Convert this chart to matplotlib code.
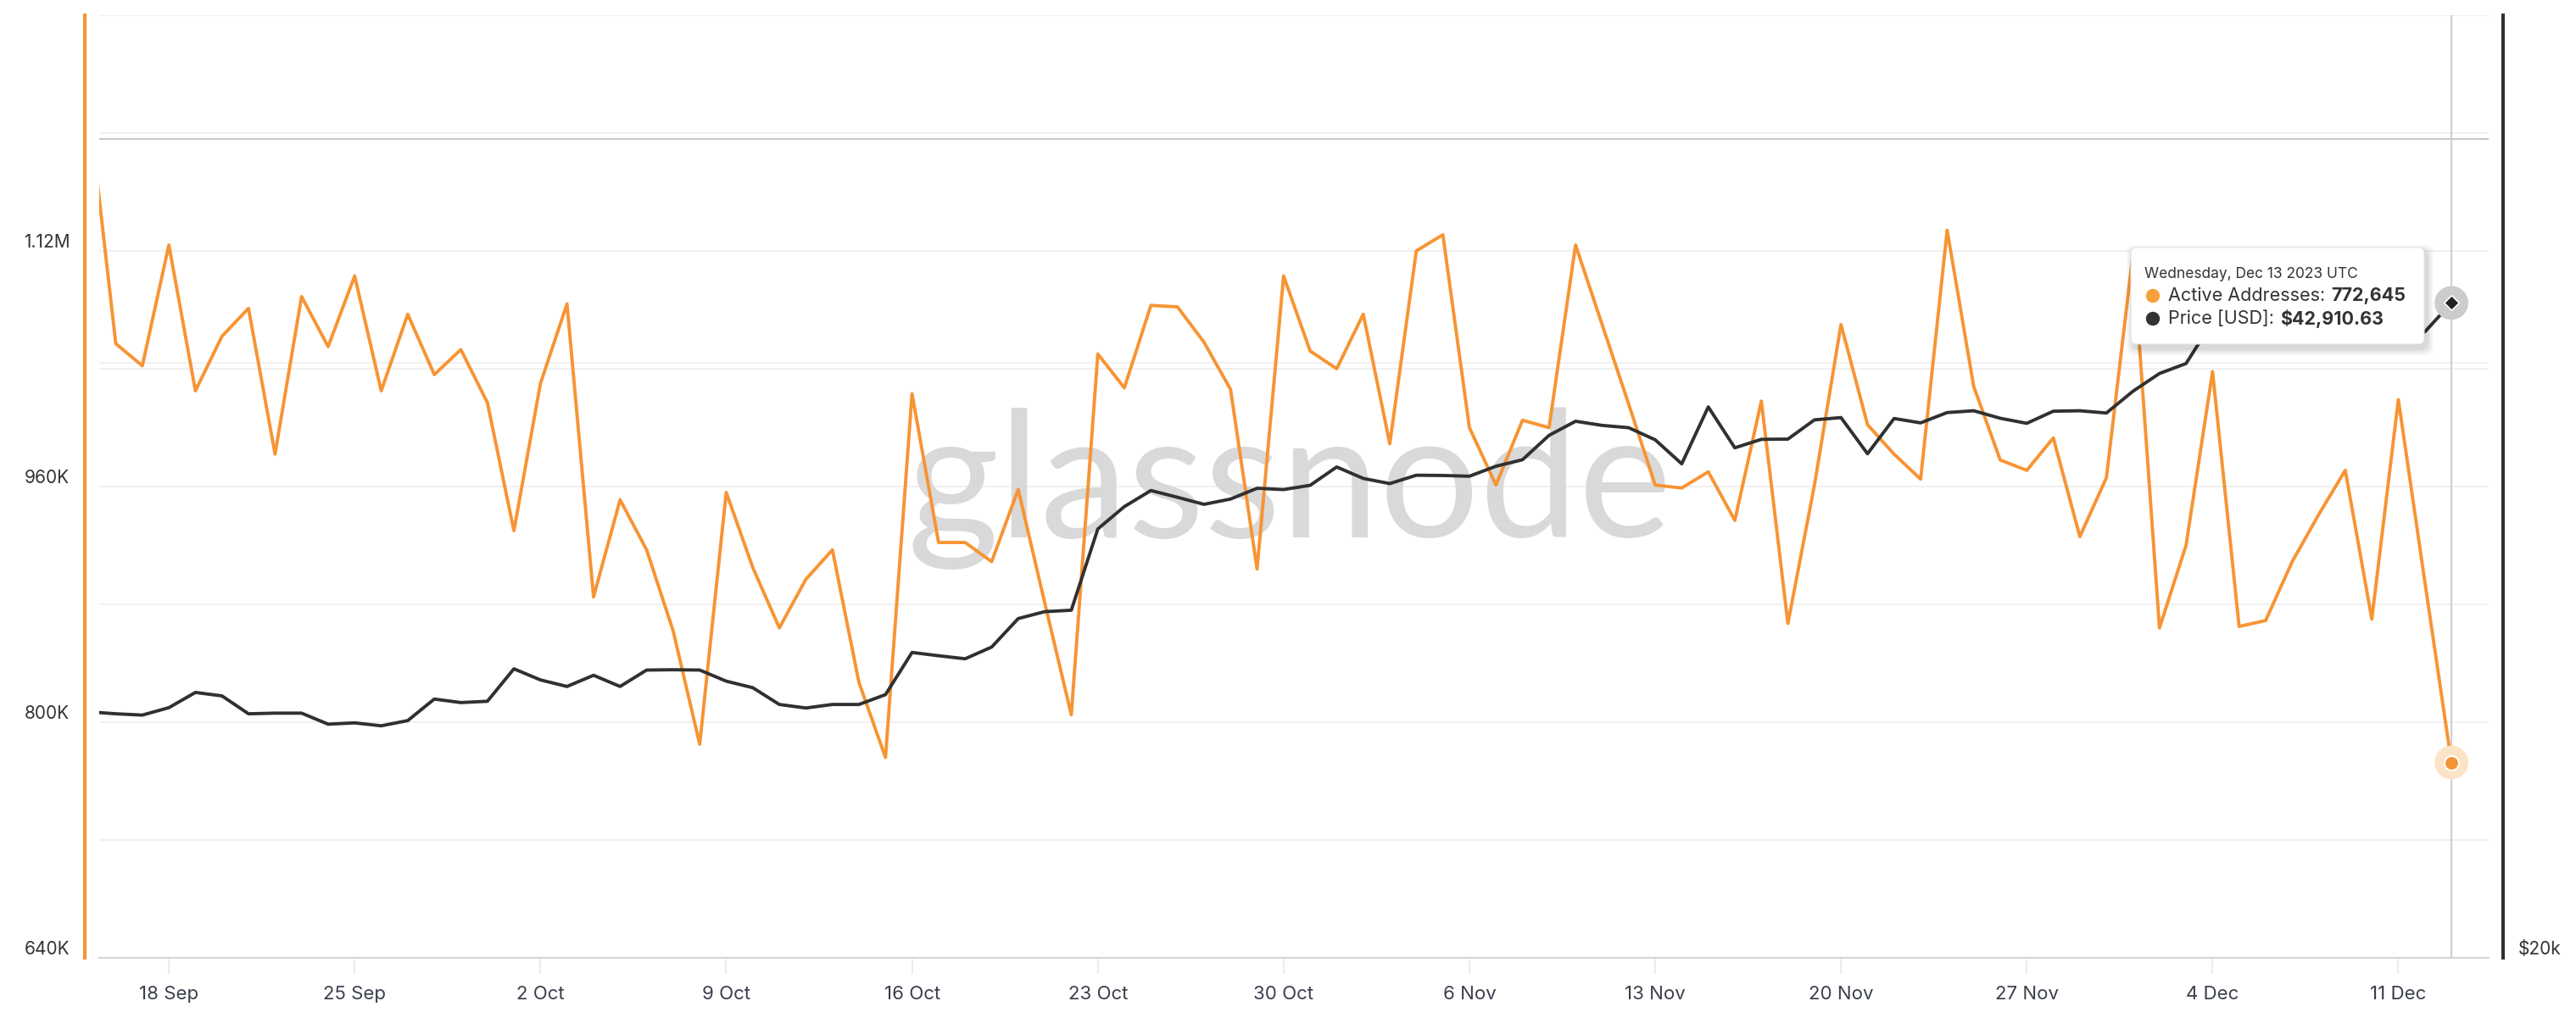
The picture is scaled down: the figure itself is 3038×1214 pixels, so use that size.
import matplotlib
matplotlib.use('Agg')
import matplotlib.pyplot as plt
import matplotlib.transforms as mtransforms
from matplotlib.patches import FancyBboxPatch, Circle
from matplotlib.ticker import NullLocator
import pandas as pd

plt.rcParams['font.family'] = ['Inter', 'DejaVu Sans']

# daily data, 15 Sep - 13 Dec 2023
dates = pd.date_range('2023-09-15', '2023-12-13', freq='D')

active_addresses = [
    1215000, 1057000, 1042000, 1124000, 1025000, 1062000, 1081000, 982000,
    1089000, 1055000, 1103000, 1025000, 1077000, 1036000, 1053000, 1017000,
    930000, 1030000, 1084000, 885000, 951000, 917000, 862000, 785000,
    956000, 905000, 864000, 897000, 917000, 827000, 776000, 1023000,
    922000, 922000, 909000, 958000, 881000, 805000, 1050000, 1027000,
    1083000, 1082000, 1058000, 1026000, 904000, 1103000, 1052000, 1040000,
    1077000, 989000, 1120000, 1131000, 1000000, 961000, 1005000, 1000000,
    1124000, 1070000, 1016000, 961000, 959000, 970000, 937000, 1018000,
    867000, 961000, 1070000, 1002000, 982000, 965000, 1134000, 1028000,
    978000, 971000, 993000, 926000, 966000, 1118000, 864000, 920000,
    1038000, 865000, 869000, 909000, 941000, 971000, 870000, 1019000,
    895000, 772645,
]

price_usd = [
    26640, 26580, 26540, 26770, 27250, 27140, 26580, 26600,
    26600, 26260, 26300, 26210, 26370, 27040, 26930, 26970,
    28010, 27650, 27440, 27800, 27440, 27970, 27980, 27970,
    27610, 27400, 26870, 26760, 26870, 26870, 27180, 28550,
    28440, 28340, 28730, 29700, 29940, 29990, 32970, 33840,
    34480, 34210, 33930, 34140, 34570, 34520, 34690, 35440,
    34970, 34760, 35100, 35090, 35060, 35470, 35740, 36770,
    37380, 37200, 37100, 36580, 35570, 38010, 36240, 36600,
    36610, 37440, 37540, 35990, 37500, 37310, 37760, 37840,
    37510, 37290, 37820, 37840, 37740, 38710, 39520, 39980,
    41980, 44080, 43770, 43290, 44170, 43710, 43780, 41240,
    41490, 42910.63,
]

week_ticks = pd.date_range('2023-09-18', '2023-12-11', freq='7D')
week_labels = ['18 Sep', '25 Sep', '2 Oct', '9 Oct', '16 Oct', '23 Oct', '30 Oct',
               '6 Nov', '13 Nov', '20 Nov', '27 Nov', '4 Dec', '11 Dec']

aa_ticks = [640000, 720000, 800000, 880000, 960000, 1040000, 1120000, 1200000, 1280000]
aa_labels = ['640K', '', '800K', '', '960K', '', '1.12M', '', '']
price_ticks = [20000, 40000]
price_labels = ['$20k', '']

ORANGE = '#f79433'
DARK = '#303030'
GRID = '#ececec'

fig = plt.figure(figsize=(30.38, 12.14), dpi=100)
ax = fig.add_axes([0.03851, 0.06919, 0.92759, 0.91598])
ax2 = ax.twinx()

ax.plot(dates, active_addresses, color=ORANGE, lw=2.8, zorder=3)
ax2.plot(dates, price_usd, color=DARK, lw=2.8, zorder=3)

ax.set_xlim(pd.Timestamp('2023-09-15 09:00'), pd.Timestamp('2023-12-14 09:40'))
ax.set_ylim(640000, 1280000)
ax2.set_yscale('log')
ax2.set_ylim(20000, 60000)

# grid
ax.set_yticks(aa_ticks)
ax.set_yticklabels(aa_labels)
ax.grid(axis='y', color=GRID, lw=1.1)
ax.set_axisbelow(True)
ax2.set_yticks(price_ticks)
ax2.set_yticklabels(price_labels)
ax2.yaxis.set_minor_locator(NullLocator())
trans = mtransforms.blended_transform_factory(ax.transAxes, ax2.transData)
ax.plot([0, 1], [40000, 40000], transform=trans, color=GRID, lw=1.1, zorder=0.5)
ax.axhline(0.8683 * 640000 + 640000, color='#c9c9c9', lw=1.5, zorder=0.6)

ax.set_xticks(week_ticks)
ax.set_xticklabels(week_labels)

# spines
for s in ['top', 'right']:
    ax.spines[s].set_visible(False)
ax.spines['left'].set_color(ORANGE)
ax.spines['left'].set_linewidth(2.9)
ax.spines['left'].set_position(('outward', 12))
ax.spines['bottom'].set_color('#d6d6d6')
ax.spines['bottom'].set_linewidth(1.5)
for s in ['top', 'left', 'bottom']:
    ax2.spines[s].set_visible(False)
ax2.spines['right'].set_color(DARK)
ax2.spines['right'].set_linewidth(2.9)
ax2.spines['right'].set_position(('outward', 12))

ax.tick_params(axis='y', length=0, pad=13, labelsize=15, labelcolor='#333333')
ax2.tick_params(axis='y', length=0, pad=13, labelsize=15, labelcolor='#333333')
ax.tick_params(axis='x', length=14, width=1.2, color='#e8e8e8', pad=10,
               labelsize=16, labelcolor='#3a3f4a')
for lab in ax.get_yticklabels() + ax2.get_yticklabels():
    lab.set_verticalalignment('bottom')

# watermark
ax.text(0.498, 0.446, 'glassnode', transform=ax.transAxes, fontsize=150,
        color='#d9d9d9', ha='center', va='baseline', zorder=1, family='Lato')

# hover crosshair and markers
ax.axvline(dates[-1], color='#cfcfcf', lw=1.5, zorder=2)
ax.scatter(dates[-1], active_addresses[-1], s=820, color='#fde3c6', zorder=4, edgecolors='none')
ax.scatter(dates[-1], active_addresses[-1], s=150, color=ORANGE, edgecolors='white',
           linewidths=1.5, zorder=5)
ax2.scatter(dates[-1], price_usd[-1], s=820, color='#cccccc', zorder=4, edgecolors='none')
ax2.scatter(dates[-1], price_usd[-1], s=80, marker='D', color='#222222', edgecolors='white',
            linewidths=1.2, zorder=5)

# tooltip
ov = fig.add_axes([0, 0, 1, 1], zorder=10)
ov.set_xlim(0, 3038)
ov.set_ylim(1214, 0)
ov.axis('off')
for i, a in enumerate([0.03, 0.03, 0.04, 0.05]):
    g = 8 - 2 * i
    ov.add_patch(FancyBboxPatch((2513 - g + 3, 292 - g + 5), 346 + 2 * g, 114 + 2 * g,
                                boxstyle='round,pad=0,rounding_size=10',
                                fc='black', alpha=a, ec='none'))
ov.add_patch(FancyBboxPatch((2513, 292), 346, 114, boxstyle='round,pad=0,rounding_size=7',
                            fc='white', ec='#e2e2e2', lw=0.8))
ov.text(2529, 323, 'Wednesday, Dec 13 2023 UTC', fontsize=12.5, color='#333333',
        va='center', ha='left')
ov.add_patch(Circle((2539, 349), 7.5, color='#f7a03c'))
ov.add_patch(Circle((2539, 376), 7.5, color='#333333'))
t1 = ov.text(2557, 349, 'Active Addresses:', fontsize=15.5, color='#333333', va='center')
ov.annotate('772,645', xy=(1, 0.5), xycoords=t1, xytext=(5, 0), textcoords='offset points',
            va='center', ha='left', fontsize=15.5, fontweight='bold', color='#333333')
t2 = ov.text(2557, 376, 'Price [USD]:', fontsize=15.5, color='#333333', va='center')
ov.annotate('$42,910.63', xy=(1, 0.5), xycoords=t2, xytext=(5, 0), textcoords='offset points',
            va='center', ha='left', fontsize=15.5, fontweight='bold', color='#333333')

fig.savefig('out.png', dpi=100, facecolor='white')
